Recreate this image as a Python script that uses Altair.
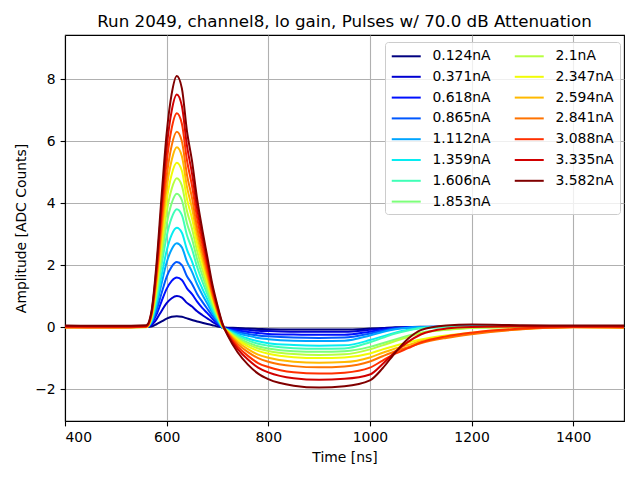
import altair as alt
import pandas as pd

# sample times (ns)
time_ns = [400, 500, 560, 570, 580, 590, 600, 610, 620, 630, 640, 650, 660, 670, 680, 690,
           700, 710, 720, 740, 760, 780, 800, 850, 900, 950, 1000, 1025, 1050, 1075, 1100,
           1150, 1200, 1300, 1400, 1500]

labels = ["0.124nA", "0.371nA", "0.618nA", "0.865nA", "1.112nA", "1.359nA", "1.606nA",
          "1.853nA", "2.1nA", "2.347nA", "2.594nA", "2.841nA", "3.088nA", "3.335nA", "3.582nA"]

colors = ["#000080", "#0000d1", "#0010ff", "#0058ff", "#00a4ff", "#06ecf1", "#40ffb7",
          "#7dff7a", "#b7ff40", "#f1fc06", "#ffb900", "#ff7300", "#ff3000", "#d10000", "#800000"]

s0 = [0.02, 0.00, 0.01, 0.02, 0.09, 0.18, 0.27, 0.33, 0.35, 0.33, 0.28, 0.23, 0.18, 0.14, 0.10, 0.06,
      0.02, -0.01, -0.02, -0.03, -0.05, -0.06, -0.07, -0.08, -0.08, -0.08, -0.05, -0.03, -0.01, 0.00, 0.01,
      0.00, 0.01, 0.00, 0.01, 0.00]
s1 = [0.01, 0.03, 0.00, 0.06, 0.25, 0.52, 0.77, 0.93, 1.00, 0.95, 0.78, 0.66, 0.51, 0.39, 0.28, 0.17,
      0.07, -0.02, -0.04, -0.07, -0.09, -0.12, -0.13, -0.15, -0.15, -0.15, -0.09, -0.05, -0.02, -0.01, 0.00,
      0.01, 0.00, 0.02, 0.00, 0.01]
s2 = [0.00, 0.02, 0.01, 0.10, 0.40, 0.83, 1.23, 1.49, 1.60, 1.52, 1.25, 1.06, 0.82, 0.62, 0.45, 0.27,
      0.12, -0.02, -0.06, -0.11, -0.16, -0.19, -0.22, -0.24, -0.25, -0.25, -0.15, -0.09, -0.04, -0.01, 0.00,
      0.01, 0.02, 0.00, 0.01, 0.02]
s3 = [0.03, 0.01, 0.00, 0.13, 0.53, 1.09, 1.62, 1.95, 2.10, 2.00, 1.64, 1.39, 1.07, 0.82, 0.59, 0.36,
      0.16, -0.02, -0.07, -0.16, -0.22, -0.27, -0.30, -0.34, -0.35, -0.34, -0.21, -0.12, -0.05, -0.02, 0.00,
      0.02, 0.01, 0.03, 0.01, 0.02]
s4 = [0.01, 0.02, 0.01, 0.16, 0.68, 1.40, 2.08, 2.51, 2.70, 2.57, 2.11, 1.78, 1.38, 1.05, 0.76, 0.46,
      0.21, -0.01, -0.08, -0.20, -0.28, -0.35, -0.39, -0.44, -0.45, -0.44, -0.27, -0.16, -0.07, -0.02, 0.00,
      0.01, 0.03, 0.02, 0.03, 0.02]
s5 = [0.02, 0.00, 0.01, 0.19, 0.80, 1.66, 2.46, 2.98, 3.20, 3.04, 2.50, 2.11, 1.63, 1.25, 0.90, 0.54,
      0.26, -0.01, -0.10, -0.25, -0.37, -0.46, -0.52, -0.58, -0.60, -0.59, -0.42, -0.30, -0.18, -0.09, -0.03,
      0.00, 0.02, 0.03, 0.02, 0.03]
s6 = [0.00, 0.02, 0.00, 0.23, 0.95, 1.98, 2.93, 3.53, 3.80, 3.61, 2.96, 2.51, 1.94, 1.48, 1.06, 0.65,
      0.30, 0.00, -0.11, -0.29, -0.43, -0.54, -0.60, -0.68, -0.70, -0.69, -0.49, -0.35, -0.21, -0.11, -0.04,
      0.00, 0.01, 0.03, 0.02, 0.02]
s7 = [0.01, -0.01, 0.00, 0.26, 1.08, 2.24, 3.31, 4.00, 4.30, 4.09, 3.35, 2.84, 2.19, 1.68, 1.20, 0.73,
      0.34, 0.01, -0.12, -0.34, -0.50, -0.62, -0.69, -0.78, -0.80, -0.78, -0.64, -0.52, -0.40, -0.28, -0.18,
      -0.08, -0.02, 0.01, 0.02, 0.01]
s8 = [0.02, 0.00, -0.01, 0.29, 1.20, 2.50, 3.70, 4.46, 4.80, 4.56, 3.74, 3.17, 2.45, 1.87, 1.34, 0.82,
      0.39, 0.02, -0.13, -0.38, -0.56, -0.69, -0.77, -0.87, -0.90, -0.88, -0.72, -0.59, -0.45, -0.32, -0.20,
      -0.09, -0.03, 0.00, 0.01, 0.00]
s9 = [-0.01, 0.01, 0.00, 0.32, 1.33, 2.76, 4.08, 4.93, 5.30, 5.04, 4.13, 3.50, 2.70, 2.07, 1.48, 0.90,
      0.43, 0.03, -0.14, -0.42, -0.62, -0.77, -0.86, -0.97, -1.00, -0.98, -0.85, -0.72, -0.60, -0.50, -0.40,
      -0.27, -0.18, -0.05, 0.00, -0.01]
s10 = [0.00, -0.02, 0.00, 0.35, 1.45, 3.02, 4.47, 5.39, 5.80, 5.51, 4.52, 3.83, 2.96, 2.26, 1.62, 0.99,
       0.48, 0.04, -0.16, -0.48, -0.71, -0.89, -0.99, -1.12, -1.15, -1.13, -0.98, -0.83, -0.69, -0.58, -0.46,
       -0.31, -0.21, -0.06, -0.01, -0.02]
s11 = [-0.02, -0.01, 0.01, 0.38, 1.58, 3.28, 4.85, 5.86, 6.30, 5.99, 4.91, 4.16, 3.21, 2.46, 1.76, 1.07,
       0.52, 0.05, -0.19, -0.55, -0.81, -1.00, -1.12, -1.26, -1.30, -1.27, -1.11, -0.94, -0.78, -0.65, -0.52,
       -0.35, -0.23, -0.07, -0.01, -0.02]
s12 = [0.01, -0.01, 0.02, 0.41, 1.73, 3.59, 5.31, 6.42, 6.90, 6.56, 5.38, 4.55, 3.52, 2.69, 1.93, 1.17,
       0.58, 0.07, -0.21, -0.63, -0.93, -1.16, -1.29, -1.46, -1.50, -1.47, -1.31, -1.08, -0.86, -0.68, -0.50,
       -0.30, -0.18, -0.05, 0.00, 0.01]
s13 = [0.03, 0.02, 0.03, 0.45, 1.88, 3.90, 5.78, 6.98, 7.50, 7.13, 5.85, 4.95, 3.83, 2.93, 2.10, 1.28,
       0.64, 0.09, -0.24, -0.71, -1.05, -1.31, -1.46, -1.65, -1.70, -1.67, -1.53, -1.19, -0.80, -0.48, -0.24,
       -0.05, 0.00, 0.02, 0.03, 0.02]
s14 = [0.05, 0.04, 0.06, 0.49, 2.03, 4.21, 6.24, 7.53, 8.10, 7.70, 6.32, 5.35, 4.13, 3.16, 2.27, 1.38,
       0.70, 0.11, -0.27, -0.82, -1.21, -1.50, -1.68, -1.89, -1.95, -1.91, -1.72, -1.33, -0.82, -0.38, -0.10,
       0.05, 0.08, 0.06, 0.05, 0.05]

series = [s0, s1, s2, s3, s4, s5, s6, s7, s8, s9, s10, s11, s12, s13, s14]

x_ticks = [400, 600, 800, 1000, 1200, 1400]
y_ticks = [-2, 0, 2, 4, 6, 8]

rows = []
for k, (lab, vals) in enumerate(zip(labels, series)):
    assert len(vals) == len(time_ns), lab
    for t, v in zip(time_ns, vals):
        rows.append({"time": t, "amp": v, "current": lab, "order": k})
df = pd.DataFrame(rows)

FONT = "DejaVu Sans"

chart = alt.Chart(df).mark_line(strokeWidth=2, clip=True, interpolate="monotone").encode(
    x=alt.X("time:Q", title="Time [ns]",
            scale=alt.Scale(domain=[400, 1500], nice=False, zero=False),
            axis=alt.Axis(values=x_ticks, format="d")),
    y=alt.Y("amp:Q", title="Amplitude [ADC Counts]",
            scale=alt.Scale(domain=[-3.03, 9.42], nice=False, zero=False),
            axis=alt.Axis(values=y_ticks, format="d")),
    color=alt.Color("current:N",
                    scale=alt.Scale(domain=labels, range=colors),
                    legend=alt.Legend(
                        title=None, columns=2, orient="none",
                        legendX=320, legendY=7, symbolType="M-1,0H3", symbolSize=210,
                        symbolStrokeWidth=2, symbolFillColor="transparent",
                        labelFontSize=13.9, labelFont=FONT,
                        labelColor="black", rowPadding=4.8, columnPadding=19,
                        labelOffset=25, padding=5.5, fillColor="rgba(255,255,255,0.8)",
                        strokeColor="#cccccc", cornerRadius=3, gridAlign="each")),
    order=alt.Order("order:Q"),
).properties(
    width=559, height=386,
    title=alt.Title("Run 2049, channel8, lo gain, Pulses w/ 70.0 dB Attenuation",
                    fontSize=16.7, font=FONT, fontWeight="normal", color="black",
                    offset=4, frame="group"),
    autosize=alt.AutoSizeParams(type="none"),
    padding={"left": 57, "top": 27, "right": 8, "bottom": 51},
).configure_view(
    stroke="black", strokeWidth=1.1
).configure_axis(
    grid=True, gridColor="#b0b0b0", gridWidth=1.1,
    domainColor="black", domainWidth=1.1,
    tickColor="black", tickWidth=1.1, tickSize=4.9,
    labelColor="black", labelFont=FONT, labelFontSize=13.9, labelPadding=4.9,
    titleColor="black", titleFont=FONT, titleFontSize=13.9, titleFontWeight="normal",
    titlePadding=6,
)

chart.save("out.html", embed_options={"renderer": "svg", "actions": False})
